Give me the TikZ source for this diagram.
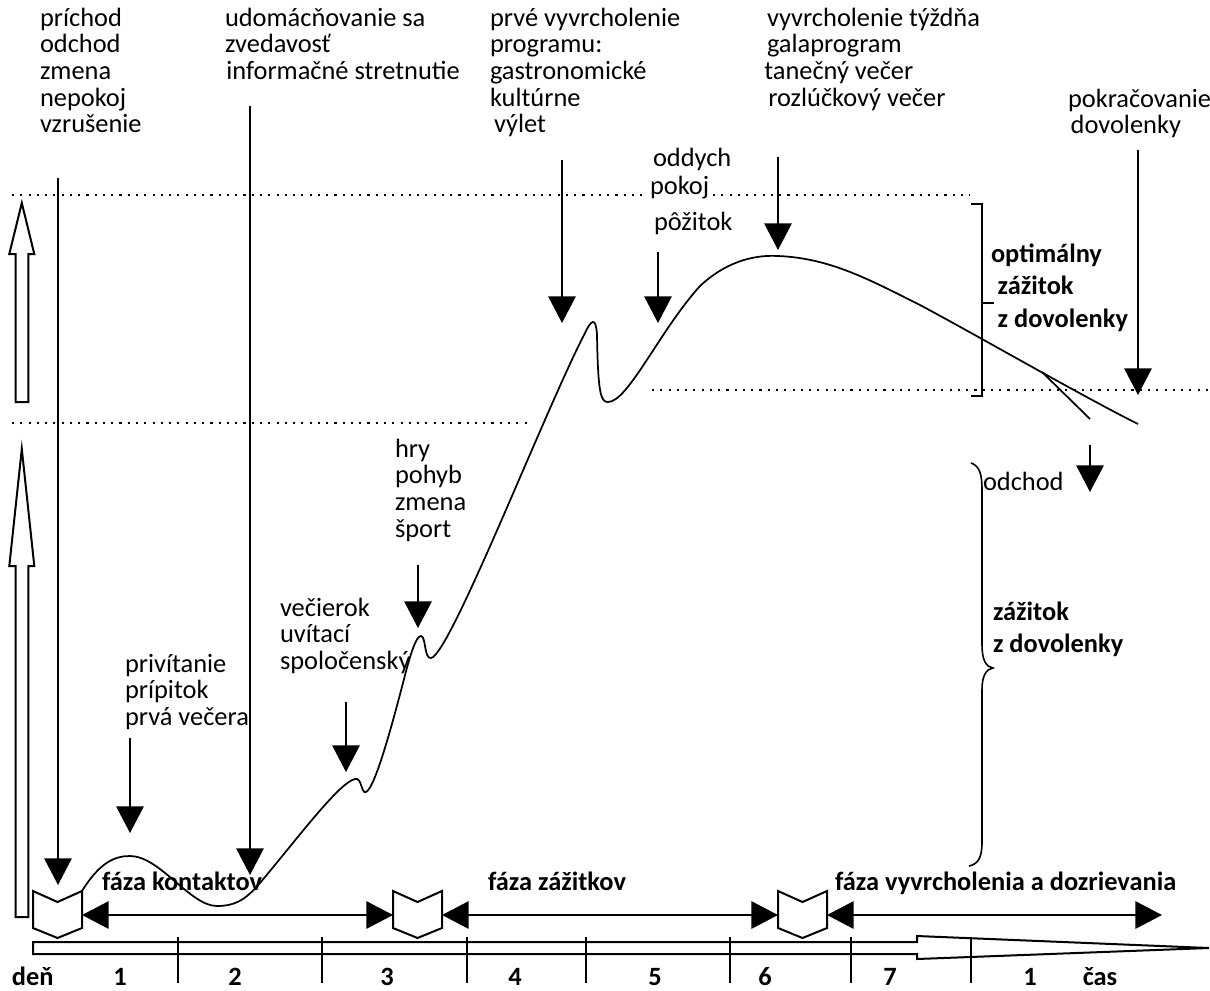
\documentclass[tikz,border=0pt]{standalone}
\usepackage{fontspec}
\setmainfont{Carlito}
\usetikzlibrary{arrows.meta}
\newcommand\blk[2][20pt]{\vtop{\baselineskip=#1\lineskiplimit=-100pt\lineskip=0pt\halign{##\hfil\cr#2\crcr}}}
\begin{document}
\begin{tikzpicture}[x=0.75pt,y=-0.75pt,
 font=\fontsize{19.8pt}{20pt}\selectfont,
 txt/.style={anchor=base west, inner sep=0pt, outer sep=0pt},
 bt/.style={txt, font=\fontsize{19.8pt}{20pt}\selectfont\bfseries},
 num/.style={anchor=base, inner sep=0pt, font=\fontsize{19.8pt}{20pt}\selectfont\bfseries},
 dn/.style={line width=1.5pt, -{Triangle[width=20.5pt,length=20pt]}},
 lr/.style={line width=1.5pt, {Triangle[width=20.5pt,length=20pt]}-{Triangle[width=20.5pt,length=20pt]}},
 hollow/.style={line width=1.5pt, fill=white, line join=miter},
 dots/.style={line width=1.6pt, dash pattern=on 1.6pt off 4.6pt},
 curve/.style={line width=1.3pt},
 thinl/.style={line width=1.2pt},
 tick/.style={line width=1.2pt},
 chev/.pic={\draw[hollow] (0,0) -- (24.5,11) -- (49,0) -- (49,37) -- (24.5,47) -- (0,37) -- cycle;}]
\useasboundingbox (0,0) rectangle (1210,990);

% dotted levels
\draw[dots] (12,195) -- (645,195);
\draw[dots] (713,195) -- (970,195);
\draw[dots] (12,423) -- (527,423);
\draw[dots] (652,390) -- (1210,390);

% left hollow arrows
\draw[hollow] (15.7,402) -- (15.7,254) -- (9.3,254) -- (21.8,203) -- (34.3,254) -- (28.3,254) -- (28.3,402) -- cycle;
\draw[hollow] (15.7,917) -- (15.7,566) -- (9.3,566) -- (21.8,449) -- (34.3,566) -- (28.3,566) -- (28.3,917) -- cycle;

% time axis
\draw[hollow] (33,942) -- (917,942) -- (917,936) -- (1209,948) -- (917,959) -- (917,954) -- (33,954) -- cycle;
\foreach \t in {178,322,467,586,730,851,971} \draw[tick] (\t,937) -- (\t,983);

% chevrons
\pic (ch1) at (33,891) {chev};
\pic (ch2) at (393,891) {chev};
\pic (ch3) at (778,891) {chev};
\coordinate (c1r) at (82,915);
\coordinate (c2l) at (393,915);
\coordinate (c2r) at (442,915);
\coordinate (c3l) at (778,915);
\coordinate (c3r) at (827,915);
\coordinate (e3) at (1162,915);
\draw[lr] (c1r) -- (c2l);
\draw[lr] (c2r) -- (c3l);
\draw[lr] (c3r) -- (e3);

% curve
\coordinate (c0) at (82,891);
\draw[curve] (c0) .. controls (100,862) and (115,856) .. (130,856)
 .. controls (160,856) and (190,906) .. (217,906)
 .. controls (240,906) and (250,895) .. (265,877)
 .. controls (300,835) and (340,782) .. (355,779)
 .. controls (362,777) and (361,794) .. (366,792)
 .. controls (375,788) and (392,725) .. (403,683)
 .. controls (410,655) and (416,636) .. (421,636)
 .. controls (426,636) and (424,659) .. (431,658)
 .. controls (450,655) and (545,410) .. (585,333)
 .. controls (591,320) and (596,316) .. (597,335)
 .. controls (598,395) and (601,402) .. (608,402)
 .. controls (628,402) and (660,330) .. (700,286)
 .. controls (730,258) and (760,255) .. (778,256)
 .. controls (830,258) and (870,280) .. (920,305)
 .. controls (980,337) and (1080,395) .. (1138,424);
\coordinate (br) at (1042,372);
\coordinate (bre) at (1090,419);
\draw[curve] (br) -- (bre);

% texts
\node[txt] (t1) at (40,26) {\blk{príchod\cr odchod\cr zmena\cr nepokoj\cr vzrušenie}};
\node[txt] (t2) at (225,26) {\blk{udomácňovanie sa\cr zvedavosť\cr \hskip1pt informačné stretnutie}};
\node[txt] (t3) at (490,26) {\blk{prvé vyvrcholenie\cr programu:\cr gastronomické\cr kultúrne\cr \hskip3pt výlet}};
\node[txt] (t4) at (767,26) {\blk{vyvrcholenie týždňa\cr galaprogram\cr \hskip-2pt tanečný večer\cr \hskip1pt rozlúčkový večer}};
\node[txt] (t5) at (653,166) {oddych};
\node[txt] (t6) at (650,194) {pokoj};
\node[txt] (t7) at (654,230) {pôžitok};
\node[txt] (t8) at (1068,107) {\blk{pokračovanie\cr \hskip2pt dovolenky}};
\node[txt] (t9) at (395,457) {\blk{hry\cr pohyb\cr zmena\cr šport}};
\node[txt] (t10) at (280,616) {\blk{večierok\cr uvítací\cr spoločenský}};
\node[txt] (t11) at (125,672) {\blk{privítanie\cr prípitok\cr prvá večera}};
\node[bt] (t12) at (991,262) {\blk[24.5pt]{optimálny\cr \hskip5pt zážitok\cr \hskip5pt z dovolenky}};
\node[txt] (t13) at (983,490) {odchod};
\node[bt] (t14) at (993,620) {\blk[24pt]{zážitok\cr z dovolenky}};
\node[bt] (f1) at (102,890) {fáza kontaktov};
\node[bt] (f2) at (488,890) {fáza zážitkov};
\node[bt] (f3) at (835,890) {fáza vyvrcholenia a dozrievania};

% axis labels
\node[bt] (den) at (12,985) {deň};
\node[num] (n1) at (120,985) {1};
\node[num] (n2) at (235,985) {2};
\node[num] (n3) at (387,985) {3};
\node[num] (n4) at (515,985) {4};
\node[num] (n5) at (655,985) {5};
\node[num] (n6) at (765,985) {6};
\node[num] (n7) at (890,985) {7};
\node[num] (n8) at (1030,985) {1};
\node[num] (cas) at (1100,985) {čas};

% bracket and brace
\coordinate (bk1) at (971,204);
\coordinate (bk2) at (971,396);
\draw[thinl] (bk1) -- (982,204) -- (982,396) -- (bk2);
\draw[thinl] (982,303) -- (994,303);
\draw[thinl] (971,463) .. controls (980,466) and (982,475) .. (982,490) -- (982,645)
  .. controls (982,660) and (986,667) .. (993,668)
  .. controls (986,669) and (982,676) .. (982,690) -- (982,842)
  .. controls (982,858) and (978,864) .. (969,866);

% down arrows
\coordinate (a1s) at (58,178);   \coordinate (a1e) at (58,885);
\coordinate (a2s) at (250,106);  \coordinate (a2e) at (250,875);
\coordinate (a3s) at (130,738);  \coordinate (a3e) at (130,833);
\coordinate (a4s) at (346,702);  \coordinate (a4e) at (346,772);
\coordinate (a5s) at (418,565);  \coordinate (a5e) at (418,628);
\coordinate (a6s) at (562,160);  \coordinate (a6e) at (562,323);
\coordinate (a7s) at (658,252);  \coordinate (a7e) at (658,323);
\coordinate (a8s) at (778,157);  \coordinate (a8e) at (778,250);
\coordinate (a9s) at (1138,150); \coordinate (a9e) at (1138,395);
\coordinate (a10s) at (1090,445); \coordinate (a10e) at (1090,492);
\foreach \i in {1,...,10} \draw[dn] (a\i s) -- (a\i e);
\end{tikzpicture}
\end{document}
